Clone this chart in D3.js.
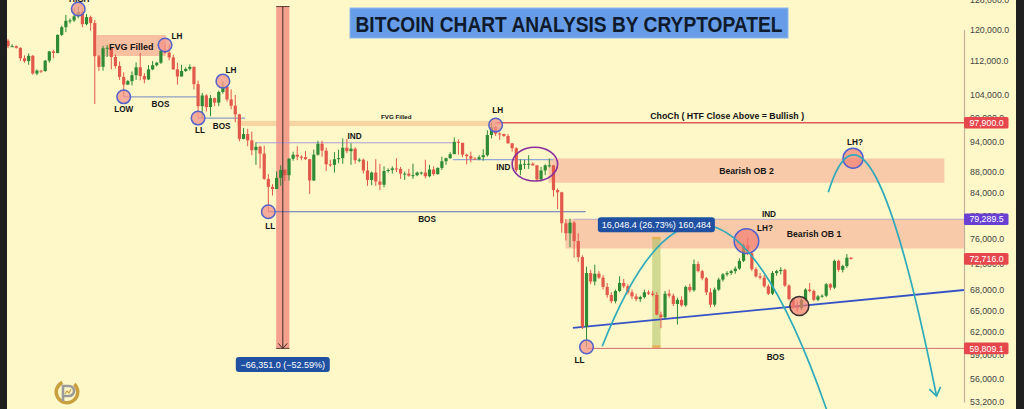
<!DOCTYPE html>
<html>
<head>
<meta charset="utf-8">
<script src="https://cdn.jsdelivr.net/npm/d3@7"></script>
<style>
  html, body { margin: 0; padding: 0; background: #fef8c8; overflow: hidden; }
  svg { display: block; }
</style>
</head>
<body>
<svg id="chart" width="1024" height="409"></svg>
<script>
// Daily BTC/USD candles, [open, high, low, close] in thousands of USD
const candles = [
  [117.1,117.5,115.2,115.7],[115.7,116.2,115.5,115.7],[115.7,115.9,115.1,115.3],[115.3,115.4,112.0,112.7],[112.7,113.4,111.6,112.0],
  [112.0,113.9,111.1,113.3],[113.3,113.5,108.7,109.0],[109.0,110.0,108.6,109.7],[109.7,109.8,109.1,109.6],[109.6,112.3,109.4,112.1],
  [112.1,114.5,111.6,114.4],[114.4,114.8,112.7,114.0],[114.0,118.7,113.9,118.6],[118.6,121.0,118.3,120.6],[120.6,123.9,119.3,122.3],
  [122.3,122.9,121.6,122.4],[122.4,125.7,122.0,123.5],[123.5,126.2,123.0,124.7],[124.7,125.1,120.6,121.4],[121.4,124.1,121.1,123.3],
  [123.3,123.7,119.7,121.7],[121.7,122.5,102.0,113.2],[113.2,113.5,109.6,110.6],[110.6,115.8,109.7,115.2],[115.2,116.0,113.0,115.3],
  [115.3,115.5,110.0,113.0],[113.0,113.6,110.2,110.8],[110.8,111.9,107.5,108.2],[108.2,109.3,103.6,106.4],[106.4,107.5,106.3,107.2],
  [107.2,109.5,106.2,108.6],[108.6,111.7,107.5,110.5],[110.5,114.0,107.4,108.4],[108.4,109.1,106.7,107.6],[107.6,111.0,107.5,110.0],
  [110.0,112.0,109.8,111.0],[111.0,111.8,110.7,111.6],[111.6,114.9,111.3,114.5],[114.5,116.4,113.8,114.1],[114.1,116.1,112.2,112.9],
  [112.9,113.6,109.9,110.0],[110.0,111.6,106.4,108.3],[108.3,111.1,108.3,109.6],[109.6,110.5,109.4,110.1],[110.1,111.2,109.7,110.6],
  [110.6,110.7,105.3,106.5],[106.5,107.3,98.9,101.5],[101.5,104.5,98.9,103.9],[103.9,104.2,100.3,101.3],[101.3,104.0,99.3,103.3],
  [103.3,103.4,101.5,102.3],[102.3,105.0,101.5,104.7],[104.7,107.2,104.3,105.9],[105.9,106.2,102.5,103.0],[103.0,105.3,100.8,101.6],
  [101.6,104.0,98.0,99.7],[99.7,99.8,94.0,94.5],[94.5,96.8,94.4,95.5],[95.5,96.6,93.0,94.2],[94.2,96.0,91.2,92.2],
  [92.2,93.8,89.3,92.9],[92.9,93.1,88.6,91.5],[91.5,93.1,86.4,86.6],[86.6,87.5,80.6,85.1],[85.1,85.6,83.5,84.7],
  [84.7,88.0,84.7,86.8],[86.8,89.2,85.3,88.3],[88.3,88.5,86.2,87.3],[87.3,90.6,86.3,90.5],[90.5,91.9,90.1,91.3],
  [91.3,93.0,90.2,90.9],[90.9,91.2,90.2,90.8],[90.8,92.0,90.3,90.4],[90.4,90.4,83.8,86.3],[86.3,92.3,86.2,91.3],
  [91.3,94.1,91.1,93.5],[93.5,94.1,90.9,92.1],[92.1,92.7,88.1,89.4],[89.4,90.3,88.9,89.3],[89.3,91.8,87.8,90.4],
  [90.4,92.3,89.6,90.6],[90.6,94.6,89.5,92.7],[92.7,94.5,91.6,92.0],[92.0,93.6,89.3,92.5],[92.5,92.8,89.5,90.2],
  [90.2,90.6,89.8,90.3],[90.3,90.5,87.6,88.2],[88.2,90.0,85.3,86.4],[86.4,88.0,85.4,87.8],[87.8,90.4,85.3,86.1],
  [86.1,89.5,84.5,85.5],[85.5,89.0,85.0,88.1],[88.1,88.6,87.8,88.3],[88.3,89.0,87.6,88.6],[88.6,90.6,87.9,88.5],
  [88.5,88.9,86.6,87.6],[87.6,88.0,86.4,87.6],[87.6,88.5,87.0,87.2],[87.2,89.5,86.6,87.3],[87.3,88.0,87.1,87.8],
  [87.8,88.0,87.4,87.8],[87.8,90.3,86.7,87.1],[87.1,89.3,86.9,88.4],[88.4,89.0,87.2,87.5],[87.5,88.8,87.4,88.7],
  [88.7,90.9,88.3,90.0],[90.0,90.7,89.3,90.6],[90.6,91.8,90.5,91.4],[91.4,94.8,91.4,93.9],[93.9,94.4,91.3,93.7],
  [93.7,93.7,90.8,91.3],[91.3,91.5,89.4,91.0],[91.0,91.9,89.8,90.5],[90.5,90.8,90.3,90.4],[90.4,91.2,90.2,90.8],
  [90.8,92.4,90.1,91.2],[91.2,96.3,90.9,95.3],[95.3,97.9,94.6,97.0],[97.0,97.2,95.1,95.6],[95.6,95.9,94.3,95.5],
  [95.5,95.6,94.9,95.1],[95.1,95.5,93.5,93.6],[93.6,93.6,91.9,92.6],[92.6,92.8,87.9,88.3],[88.3,90.4,87.3,89.4],
  [89.4,90.3,88.5,89.5],[89.5,91.2,88.5,89.5],[89.5,89.8,89.1,89.2],[89.2,89.2,86.1,86.5],[86.5,88.9,86.1,88.2],
  [88.2,89.4,87.3,89.2],[89.2,90.5,88.8,89.2],[89.2,89.2,83.3,84.5],[84.5,84.8,81.1,84.1],[84.1,84.2,77.0,78.6],
  [78.6,79.3,75.7,76.9],[76.9,79.4,74.6,78.7],[78.7,79.0,72.9,75.6],[75.6,76.9,72.2,73.0],[73.0,73.3,62.4,62.7],
  [62.7,71.5,60.0,70.5],[70.5,71.0,68.8,69.2],[69.2,71.8,68.6,70.4],[70.4,70.8,69.6,69.8],[69.8,70.2,68.0,68.4],
  [68.4,69.0,66.8,67.2],[67.2,67.6,66.0,66.3],[66.3,68.0,66.0,67.8],[67.8,70.0,67.6,69.0],[69.0,69.6,68.2,68.5],
  [68.5,68.8,67.3,67.6],[67.6,68.0,66.6,67.0],[67.0,67.4,66.3,66.6],[66.6,67.1,66.2,66.9],[66.9,68.0,66.7,67.6],
  [67.6,67.9,67.2,67.4],[67.4,67.8,67.0,67.2],[67.2,67.6,64.3,64.4],[64.4,64.8,62.5,64.0],[64.0,67.8,63.8,67.4],
  [67.4,68.0,66.8,67.1],[67.1,67.4,65.6,65.9],[65.9,66.8,63.0,66.5],[66.5,67.0,65.5,65.7],[65.7,68.6,65.5,68.4],
  [68.4,68.9,67.6,67.9],[67.9,72.6,67.7,71.9],[71.9,72.3,70.6,70.8],[70.8,71.0,69.4,69.7],[69.7,69.9,67.2,67.6],
  [67.6,68.2,65.4,65.8],[65.8,68.3,65.5,68.0],[68.0,69.8,67.8,69.5],[69.5,70.5,69.2,70.3],[70.3,70.8,70.0,70.5],
  [70.5,71.0,70.2,70.8],[70.8,71.5,70.4,71.2],[71.2,72.8,71.0,72.4],[72.4,75.2,72.2,74.9],[74.9,76.1,73.3,73.6],
  [73.6,73.9,70.8,71.1],[71.1,71.4,69.8,70.0],[70.0,70.5,69.5,69.8],[69.8,70.2,68.3,68.5],[68.5,68.8,67.2,67.4],
  [67.4,70.8,67.2,70.5],[70.5,71.0,70.1,70.8],[70.8,71.4,70.3,71.0],[71.0,71.2,68.4,68.6],[68.6,68.8,66.4,66.6],
  [66.6,66.8,65.2,65.4],[65.4,66.3,64.8,65.3],[65.3,66.7,65.0,66.5],[66.5,68.2,66.3,68.0],[68.0,69.0,67.6,67.8],
  [67.8,68.0,66.3,66.5],[66.5,67.2,66.3,67.0],[67.0,67.3,66.8,67.1],[67.1,69.0,66.9,68.8],[68.8,69.0,67.9,68.3],
  [68.3,72.6,68.1,72.4],[72.4,72.6,70.7,71.0],[71.0,71.8,70.6,71.6],[71.6,73.5,71.3,72.9],[72.9,73.0,72.6,72.716]
];

// Price axis
const priceTicks = [128000,120000,112000,104000,99000,94000,88000,84000,80000,76000,72000,68000,65000,62000,59000,56000,53200];
const tagPrices = [97900, 79289.5, 72716, 59809.1];

// Swing points: candle index, price, text
const pivots = [
  {i: 17, p: 125500, label: "HIGH"},
  {i: 38, p: 116000, label: "LH"},
  {i: 28, p: 103600, label: "LOW"},
  {i: 46, p: 98900, label: "LL"},
  {i: 52, p: 107200, label: "LH"},
  {i: 63, p: 80600, label: "LL"},
  {i: 118, p: 97400, label: "LH"},
  {i: 140, p: 60000, label: "LL"}
];

// Horizontal structure levels
const levels = [
  {i0: 28, i1: 45.8, p: 103600, label: "BOS"},
  {i0: 46, i1: 57.4, p: 98900, label: "BOS"},
  {i0: 60, i1: 107.7, p: 93700, label: "IND"},
  {i0: 107.7, i1: 132, p: 90300, label: "IND"},
  {i0: 63, i1: 139.8, p: 80600, label: "BOS"},
  {i0: 118, i1: 231.5, p: 97900, label: "ChoCh ( HTF Close Above = Bullish )"},
  {i0: 136.8, i1: 231.5, p: 79289.5, label: "IND"},
  {i0: 140, i1: 231.5, p: 59809.1, label: "BOS"}
];

// Price zones
const zones = [
  {i0: 21.5, i1: 38.2, top: 118570, bottom: 113250, label: "FVG Filled"},
  {i0: 55.4, i1: 118, top: 98300, bottom: 97200, label: "FVG Filled"},
  {i0: 130.8, i1: 226.6, top: 90560, bottom: 85860, label: "Bearish OB 2"},
  {i0: 134.9, i1: 231.5, top: 79289.5, bottom: 74390, label: "Bearish OB 1"}
];

// Price range measurements
const measures = [
  {i0: 64.9, i1: 68.1, from: 126160.1, to: 59809.1, ticks: false},
  {i0: 155.9, i1: 157.9, from: 60039.4, to: 76087.8, ticks: true}
];

// Projected swings (quadratic paths: start, control, end)
const projections = [
  [[143.8, 60080], [170.2, 109800], [199.0, 51100]],
  [[198.5, 84100], [208.4, 112300], [224.7, 53900]]
];
const marks = [
  {i: 178.7, p: 75600, label: "LH?"},
  {i: 204.5, p: 90600, label: "LH?"},
  {i: 191.5, p: 65600, label: ""}
];
const trend = {i0: 136.7, p0: 62550, i1: 231.5, p1: 67950};
const ellipseZone = {i0: 122, i1: 133, top: 92800, bottom: 86200};

// ---------- drawing ----------
const W = 1024, H = 409, axisX = 964;
const FONT = "'Liberation Sans', Arial, Helvetica, sans-serif";
const svg = d3.select("#chart").style("font-family", FONT);

const x = d3.scaleLinear().domain([0, 204]).range([8, 851]);
const y = d3.scaleLog().domain([53200, 120000]).range([402, 29.5]);

const data = candles.map((d, i) => ({i, open: d[0] * 1000, high: d[1] * 1000, low: d[2] * 1000, close: d[3] * 1000}));

svg.append("rect").attr("width", W).attr("height", H).attr("fill", "#fef8c8");

const defs = svg.append("defs");
defs.append("clipPath").attr("id", "plot").append("rect")
  .attr("x", 7).attr("y", 0).attr("width", axisX - 7).attr("height", H);

const plot = svg.append("g").attr("clip-path", "url(#plot)");

// zones
const zoneFill = ["#f7c0a0", "#f6cf9c", "#f9caa9", "#f9caa9"];
const zoneOpacity = [1, 0.85, 1, 1];
plot.selectAll("rect.zone").data(zones).join("rect").attr("class", "zone")
  .attr("x", d => x(d.i0)).attr("width", d => x(d.i1) - x(d.i0))
  .attr("y", d => y(d.top)).attr("height", d => y(d.bottom) - y(d.top))
  .attr("fill", (d, k) => zoneFill[k]).attr("opacity", (d, k) => zoneOpacity[k]);

// measurement bands
const m0 = measures[0], m1 = measures[1];
plot.append("rect").attr("x", x(m0.i0)).attr("width", x(m0.i1) - x(m0.i0))
  .attr("y", y(m0.from)).attr("height", y(m0.to) - y(m0.from)).attr("fill", "#f5a18d");
plot.append("rect").attr("x", x(m1.i0)).attr("width", x(m1.i1) - x(m1.i0))
  .attr("y", y(m1.to)).attr("height", y(m1.from) - y(m1.to)).attr("fill", "#a9c060").attr("opacity", 0.55);
[m1.to, m1.from].forEach(v => {
  plot.append("line").attr("x1", x(m1.i0)).attr("x2", x(m1.i1)).attr("y1", y(v)).attr("y2", y(v))
    .attr("stroke", "#e6b055").attr("stroke-width", 2.5);
});

// structure levels
const levelColor = ["#8d9dc6", "#8d9dc6", "#ab9dd6", "#91a8d4", "#5b6fb8", "#e05858", "#b9a9c9", "#cf6f6f"];
const levelWidth = [1.2, 1.2, 1, 1.2, 1, 1.4, 1, 1];
plot.selectAll("line.level").data(levels).join("line").attr("class", "level")
  .attr("x1", d => x(d.i0)).attr("x2", d => x(d.i1))
  .attr("y1", d => y(d.p)).attr("y2", d => y(d.p))
  .attr("stroke", (d, k) => levelColor[k]).attr("stroke-width", (d, k) => levelWidth[k]);

// trend line
plot.append("line").attr("x1", x(trend.i0)).attr("y1", y(trend.p0))
  .attr("x2", x(trend.i1)).attr("y2", y(trend.p1))
  .attr("stroke", "#3553c6").attr("stroke-width", 1.8);

// candles
const up = "#2e8b34", down = "#e2584a";
const cg = plot.append("g");
cg.selectAll("line").data(data).join("line")
  .attr("x1", d => x(d.i)).attr("x2", d => x(d.i))
  .attr("y1", d => y(d.high)).attr("y2", d => y(d.low))
  .attr("stroke", d => d.close >= d.open ? up : down).attr("stroke-width", 1);
cg.selectAll("rect").data(data).join("rect")
  .attr("x", d => x(d.i) - 1.6).attr("width", 3.2)
  .attr("y", d => y(Math.max(d.open, d.close)))
  .attr("height", d => Math.max(1, Math.abs(y(d.open) - y(d.close))))
  .attr("fill", d => d.close >= d.open ? up : down);

// vertical measure: centre arrow
const mx = (x(m0.i0) + x(m0.i1)) / 2;
plot.append("line").attr("x1", mx).attr("x2", mx).attr("y1", y(m0.from)).attr("y2", y(m0.to))
  .attr("stroke", "#3b2d2a").attr("stroke-width", 1);
[m0.from, m0.to].forEach(v => plot.append("line")
  .attr("x1", x(m0.i0)).attr("x2", x(m0.i1)).attr("y1", y(v)).attr("y2", y(v))
  .attr("stroke", "#5a3b33").attr("stroke-width", 1));
plot.append("path")
  .attr("d", `M${mx - 4.5},${y(m0.to) - 5}L${mx},${y(m0.to)}L${mx + 4.5},${y(m0.to) - 5}`)
  .attr("fill", "none").attr("stroke", "#3b2d2a").attr("stroke-width", 1);

// ellipse around consolidation
plot.append("ellipse")
  .attr("cx", (x(ellipseZone.i0) + x(ellipseZone.i1)) / 2)
  .attr("cy", (y(ellipseZone.top) + y(ellipseZone.bottom)) / 2)
  .attr("rx", (x(ellipseZone.i1) - x(ellipseZone.i0)) / 2)
  .attr("ry", (y(ellipseZone.bottom) - y(ellipseZone.top)) / 2)
  .attr("fill", "none").attr("stroke", "#8a2f9e").attr("stroke-width", 1.6);

// pivot circles
plot.selectAll("circle.pivot").data(pivots).join("circle").attr("class", "pivot")
  .attr("cx", d => x(d.i)).attr("cy", d => y(d.p)).attr("r", 6.8)
  .attr("fill", "rgba(243,150,140,0.75)").attr("stroke", "#5462c9").attr("stroke-width", 1.5);

// highlighted swing marks
const markR = [12.3, 10, 9.5];
const markStroke = ["#4f5fd0", "#4f5fd0", "#3a3030"];
plot.selectAll("circle.mark").data(marks).join("circle").attr("class", "mark")
  .attr("cx", d => x(d.i)).attr("cy", d => y(d.p)).attr("r", (d, k) => markR[k])
  .attr("fill", "rgba(242,125,115,0.7)").attr("stroke", (d, k) => markStroke[k]).attr("stroke-width", 1.5);

// projection paths
projections.forEach((pts, k) => {
  const P = pts.map(([i, p]) => [x(i), y(p)]);
  plot.append("path")
    .attr("d", `M${P[0][0]},${P[0][1]}Q${P[1][0]},${P[1][1]} ${P[2][0]},${P[2][1]}`)
    .attr("fill", "none").attr("stroke", "#2eaabb").attr("stroke-width", 1.7);
  if (k === 1) {
    const dx = P[2][0] - P[1][0], dy = P[2][1] - P[1][1];
    const len = Math.hypot(dx, dy), ux = dx / len, uy = dy / len;
    const a = 35 * Math.PI / 180, L = 10;
    const w1 = [P[2][0] - L * (ux * Math.cos(a) - uy * Math.sin(a)), P[2][1] - L * (ux * Math.sin(a) + uy * Math.cos(a))];
    const w2 = [P[2][0] - L * (ux * Math.cos(-a) - uy * Math.sin(-a)), P[2][1] - L * (ux * Math.sin(-a) + uy * Math.cos(-a))];
    plot.append("path").attr("d", `M${w1[0]},${w1[1]}L${P[2][0]},${P[2][1]}L${w2[0]},${w2[1]}`)
      .attr("fill", "none").attr("stroke", "#2eaabb").attr("stroke-width", 1.7);
  }
});

// ---------- labels ----------
const lbl = svg.append("g").attr("fill", "#141414").attr("font-weight", "bold").attr("text-anchor", "middle");

const pivotOffset = [[1, -7], [12, -6], [0, 15], [2, 15], [8, -8], [2, 17], [2, -12], [-7, 16]];
pivots.forEach((d, k) => {
  lbl.append("text").attr("x", x(d.i) + pivotOffset[k][0]).attr("y", y(d.p) + pivotOffset[k][1])
    .attr("font-size", 8.2).text(d.label);
});

const levelLabelDy = [10.5, 10.5, -3.7, 10, 10.5, -3.5, -2.6, 12];
const levelFont = [8.2, 8.2, 8.2, 8.2, 8.2, 8.8, 8.2, 8.2];
levels.forEach((d, k) => {
  lbl.append("text").attr("x", (x(d.i0) + x(Math.min(d.i1, 231.5))) / 2 - (k === 5 ? 3 : 0))
    .attr("y", y(d.p) + levelLabelDy[k]).attr("font-size", levelFont[k]).text(d.label);
});

const zoneLabelDx = [0, 30, 0, 49];
const zoneLabelDy = [4, -4, 3.5, 3];
const zoneFont = [9, 6.2, 8.7, 8.7];
zones.forEach((d, k) => {
  lbl.append("text").attr("x", (x(d.i0) + x(d.i1)) / 2 + zoneLabelDx[k])
    .attr("y", (y(d.top) + y(d.bottom)) / 2 + zoneLabelDy[k])
    .attr("font-size", zoneFont[k]).text(d.label);
});

const markOffset = [[18.5, -10.5], [2, -13]];
marks.forEach((d, k) => {
  if (!d.label) return;
  lbl.append("text").attr("x", x(d.i) + markOffset[k][0]).attr("y", y(d.p) + markOffset[k][1])
    .attr("font-size", 8.2).text(d.label);
});

// measurement labels
const fmtPrice = d3.format(",.1f");
function measureText(m) {
  const diff = m.to - m.from;
  const pct = d3.format(".2f")(diff / m.from * 100);
  let s = `${fmtPrice(diff)} (${pct}%)`;
  if (m.ticks) s += " " + d3.format(",")(Math.round(Math.abs(diff) * 10));
  return s;
}
function pill(cx, top, w, text) {
  svg.append("rect").attr("x", cx - w / 2).attr("y", top).attr("width", w).attr("height", 15)
    .attr("rx", 3).attr("fill", "#1f50a2");
  svg.append("text").attr("x", cx).attr("y", top + 10.8).attr("text-anchor", "middle")
    .attr("font-size", 9).attr("fill", "#ffffff").text(text);
}
pill(mx, y(m0.to) + 8.5, 94, measureText(m0));
pill((x(m1.i0) + x(m1.i1)) / 2, y(m1.to) - 21, 117, measureText(m1));

// ---------- price axis ----------
svg.append("rect").attr("x", axisX).attr("y", 0).attr("width", W - axisX).attr("height", H).attr("fill", "#fef8c8");
const axis = svg.append("g").attr("transform", `translate(${axisX},0)`)
  .call(d3.axisRight(y).tickValues(priceTicks).tickSize(0).tickPadding(6).tickFormat(fmtPrice));
axis.select(".domain").attr("stroke", "#c2b29b").attr("stroke-width", 1.2);
axis.selectAll("text").attr("font-size", 8.8).attr("fill", "#444444").attr("font-family", FONT);

const tagColor = ["#e6474c", "#6a40d2", "#e6474c", "#e6474c"];
tagPrices.forEach((p, k) => {
  const ty = y(p);
  svg.append("rect").attr("x", axisX).attr("y", ty - 5.8).attr("width", 44.5).attr("height", 11.6)
    .attr("rx", 1.5).attr("fill", tagColor[k]);
  svg.append("text").attr("x", axisX + 22.5).attr("y", ty + 3.2).attr("text-anchor", "middle")
    .attr("font-size", 8.8).attr("fill", "#ffffff").text(fmtPrice(p));
});

// dark frame strips
svg.append("rect").attr("x", 0).attr("y", 0).attr("width", 7).attr("height", H).attr("fill", "#1f1f1f");
svg.append("rect").attr("x", 1016).attr("y", 0).attr("width", 8).attr("height", H).attr("fill", "#1f1f1f");

// ---------- title ----------
svg.append("rect").attr("x", 350).attr("y", 8).attr("width", 438).attr("height", 30)
  .attr("fill", "#679de8").attr("stroke", "#8fb7ee").attr("stroke-width", 1);
svg.append("text").attr("x", 355.5).attr("y", 31.5).attr("font-size", 21.5).attr("font-weight", "bold")
  .attr("fill", "#0f1a2c").attr("textLength", 427).attr("lengthAdjust", "spacingAndGlyphs")
  .text("BITCOIN CHART ANALYSIS BY CRYPTOPATEL");

// ---------- logo ----------
const logo = svg.append("g").attr("transform", "translate(67,392)");
const arc = d3.arc().innerRadius(9).outerRadius(12.5).startAngle(0.75).endAngle(2 * Math.PI - 0.45);
logo.append("path").attr("d", arc()).attr("fill", "#c9a03f");
logo.append("path").attr("d", "M-4,9V-6H2A5,5 0 0 1 2,4H-4").attr("fill", "none")
  .attr("stroke", "#9b9b9b").attr("stroke-width", 2.6);
logo.append("path").attr("d", "M-2,2L0,-1L2,1L4,-3").attr("fill", "none")
  .attr("stroke", "#c9a03f").attr("stroke-width", 1.2);
</script>
</body>
</html>
